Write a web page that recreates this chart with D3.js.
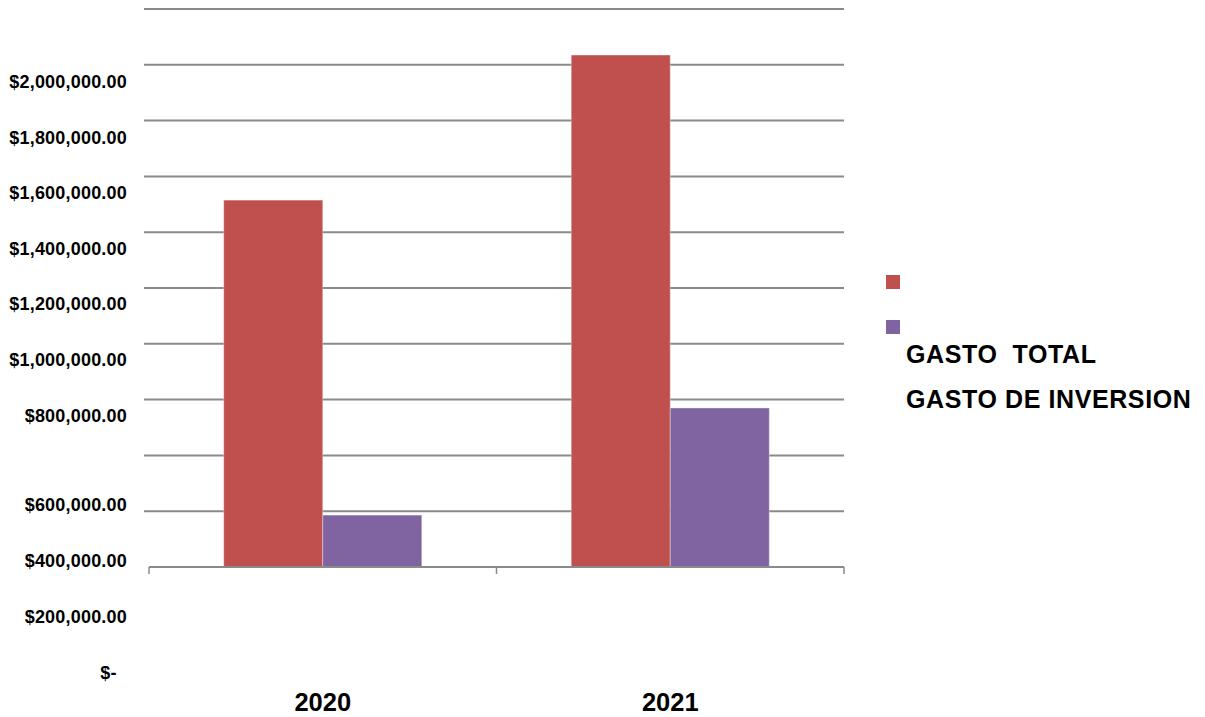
<!DOCTYPE html>
<html>
<head>
<meta charset="utf-8">
<script src="https://cdn.jsdelivr.net/npm/d3@7"></script>
<style>
  body { margin: 0; background: #fff; }
  text { font-family: "Liberation Sans", Arial, sans-serif; font-weight: bold; fill: #000; white-space: pre; }
</style>
</head>
<body>
<div id="chart"></div>
<script>
// data
var years = ["2020", "2021"]
var gastoTotal = [1315000, 1835000]
var gastoInversion = [186000, 570000]
var seriesNames = ["GASTO  TOTAL", "GASTO DE INVERSION"]
var seriesColors = ["#C0504D", "#8064A2"]
var tickValues = [0, 200000, 400000, 600000, 800000, 1000000, 1200000, 1400000, 1600000, 1800000, 2000000]

var width = 1205
var height = 717

var svg = d3.select("#chart")
  .append("svg")
    .attr("width", width)
    .attr("height", height)

// value scale for the plot area
var y = d3.scaleLinear()
  .domain([0, 2000000])
  .range([567, 9])

// the tick labels in the original sit off the gridlines, in two groups
var yLabel = d3.scaleLinear()
  .domain([0, 600000, 800000, 2000000])
  .range([673, 505, 415.5, 82])

var x = d3.scaleBand()
  .domain(years)
  .range([149, 844])

var x1 = d3.scaleBand()
  .domain(d3.range(seriesNames.length))
  .range([x.bandwidth() * 0.215, x.bandwidth() * 0.785])

var fmt = function(d){
  return d === 0 ? "$-  " : "$" + d3.format(",.2f")(d)
}

// gridlines
svg.append("g")
  .selectAll("line")
  .data(tickValues.filter(function(d){ return d > 0 }))
  .enter()
  .append("line")
    .attr("x1", 144)
    .attr("x2", 844)
    .attr("y1", function(d){ return y(d) })
    .attr("y2", function(d){ return y(d) })
    .attr("stroke", "#8a8a8a")
    .attr("stroke-width", 2)

// y labels
svg.append("g")
  .selectAll("text")
  .data(tickValues)
  .enter()
  .append("text")
    .attr("x", 127)
    .attr("y", function(d){ return yLabel(d) })
    .attr("text-anchor", "end")
    .attr("dominant-baseline", "central")
    .style("font-size", "18px")
    .style("letter-spacing", "0.2px")
    .text(fmt)

// bars
var rows = years.map(function(yr, i){ return [gastoTotal[i], gastoInversion[i]] })

var groups = svg.append("g")
  .selectAll("g")
  .data(rows)
  .enter()
  .append("g")
    .attr("transform", function(d, i){ return "translate(" + x(years[i]) + ",0)" })

groups.selectAll("rect")
  .data(function(d){ return d })
  .enter()
  .append("rect")
    .attr("x", function(d, j){ return x1(j) })
    .attr("y", function(d){ return y(d) })
    .attr("width", x1.bandwidth())
    .attr("height", function(d){ return y(0) - y(d) })
    .attr("fill", function(d, j){ return seriesColors[j] })
    .attr("stroke", "rgba(255,255,255,0.35)")
    .attr("stroke-width", 1)

// x axis
var xAxis = svg.append("g")
  .attr("transform", "translate(0," + y(0) + ")")
  .call(d3.axisBottom(x).tickValues([]).tickSizeOuter(0))
xAxis.select(".domain").attr("stroke", "#8a8a8a").attr("stroke-width", 2).attr("d", "M149,0H844")

svg.append("g")
  .selectAll("line")
  .data(x.domain().map(function(d){ return x(d) }).concat([x.range()[1]]))
  .enter()
  .append("line")
    .attr("x1", function(d){ return d })
    .attr("x2", function(d){ return d })
    .attr("y1", y(0))
    .attr("y2", y(0) + 7)
    .attr("stroke", "#8a8a8a")
    .attr("stroke-width", 1.5)

svg.append("g")
  .selectAll("text")
  .data(years)
  .enter()
  .append("text")
    .attr("x", function(d){ return x(d) + x.bandwidth() / 2 })
    .attr("y", 711)
    .attr("text-anchor", "middle")
    .style("font-size", "25.5px")
    .text(function(d){ return d })

// legend
var legend = svg.append("g")
var legendRow = d3.scaleLinear().domain([0, 1]).range([0, 45])

legend.selectAll("rect")
  .data(seriesNames)
  .enter()
  .append("rect")
    .attr("x", 886)
    .attr("y", function(d, i){ return 275 + legendRow(i) })
    .attr("width", 14)
    .attr("height", 14)
    .attr("fill", function(d, i){ return seriesColors[i] })

legend.selectAll("text")
  .data(seriesNames)
  .enter()
  .append("text")
    .attr("x", 906)
    .attr("y", function(d, i){ return 363 + legendRow(i) })
    .style("font-size", "25px")
    .style("letter-spacing", "0.6px")
    .text(function(d){ return d })
</script>
</body>
</html>
